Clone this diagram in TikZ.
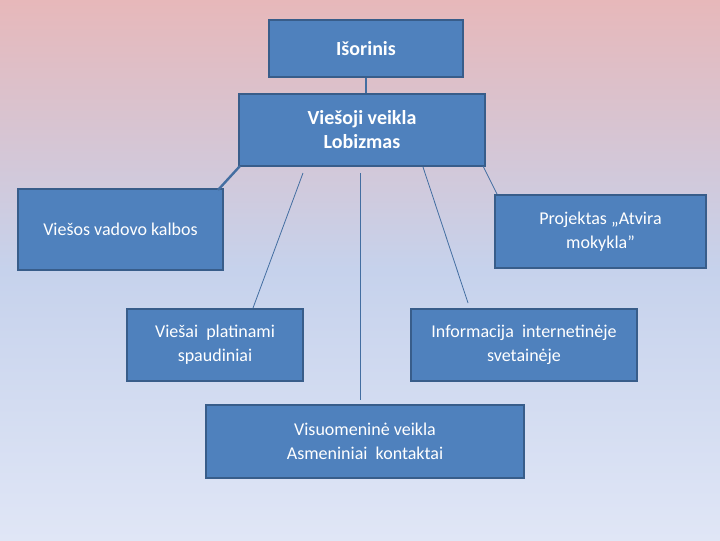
\documentclass[tikz,border=0pt]{standalone}
\usepackage{fontspec}
\setmainfont{Carlito}
\definecolor{boxfill}{RGB}{79,129,189}
\definecolor{boxline}{RGB}{56,93,138}
\definecolor{bgtop}{RGB}{231,184,186}
\definecolor{bgmid}{RGB}{198,210,236}
\definecolor{bgbot}{RGB}{224,230,246}
\pgfdeclareverticalshading{bgshade}{100bp}{color(0bp)=(bgbot); color(25bp)=(bgbot); color(50bp)=(bgmid); color(75bp)=(bgtop); color(100bp)=(bgtop)}
\tikzset{
  box/.style={draw=boxline, fill=boxfill, line width=2.2pt, text=white, align=center,
    font=\fontsize{13.5}{18}\selectfont, inner sep=0pt},
  boldbox/.style={box, font=\fontsize{15}{18}\selectfont\bfseries},
  link/.style={draw=boxfill!85!black, line width=0.6pt},
  thicklink/.style={draw=boxfill!85!black, line width=1.8pt}
}
\begin{document}
\begin{tikzpicture}[x=0.75pt,y=-0.75pt]
\shade[shading=bgshade] (0,0) rectangle (720,540);
\useasboundingbox (0,0) rectangle (720,540);
\node[boldbox, minimum width=145.5pt, minimum height=42.75pt] (A) at (366,48.5) {Išorinis};
\node[boldbox, minimum width=184.5pt, minimum height=54pt] (B) at (362,130) {Viešoji veikla\\Lobizmas};
\node[box, minimum width=153.75pt, minimum height=60.75pt] (C) at (120.5,229.5) {Viešos vadovo kalbos};
\node[box, minimum width=158.25pt, minimum height=54.75pt] (D) at (600.5,231.5) {Projektas „Atvira\\mokykla”};
\node[box, minimum width=132pt, minimum height=54pt] (E) at (215,345) {Viešai\ \ platinami\\spaudiniai};
\node[box, minimum width=169.5pt, minimum height=54pt] (F) at (524,345) {Informacija\ \ internetinėje\\svetainėje};
\node[box, minimum width=238.5pt, minimum height=54.75pt] (G) at (365,441.5) {Visuomeninė veikla\\Asmeniniai\ \ kontaktai};
\coordinate (c1) at (240,166);
\coordinate (c2) at (218,190);
\coordinate (e1) at (303,173);
\coordinate (e2) at (253,308);
\coordinate (g1) at (360,173);
\coordinate (g2) at (360,400);
\coordinate (f1) at (423,167);
\coordinate (f2) at (468,303);
\coordinate (d1) at (483,166);
\coordinate (d2) at (497,194);
\draw[link, line width=1.2pt] (A.south) -- (A.south |- B.north);
\draw[thicklink] (c1) -- (c2);
\draw[link] (e1) -- (e2);
\draw[link] (g1) -- (g2);
\draw[link] (f1) -- (f2);
\draw[link] (d1) -- (d2);
\end{tikzpicture}
\end{document}
